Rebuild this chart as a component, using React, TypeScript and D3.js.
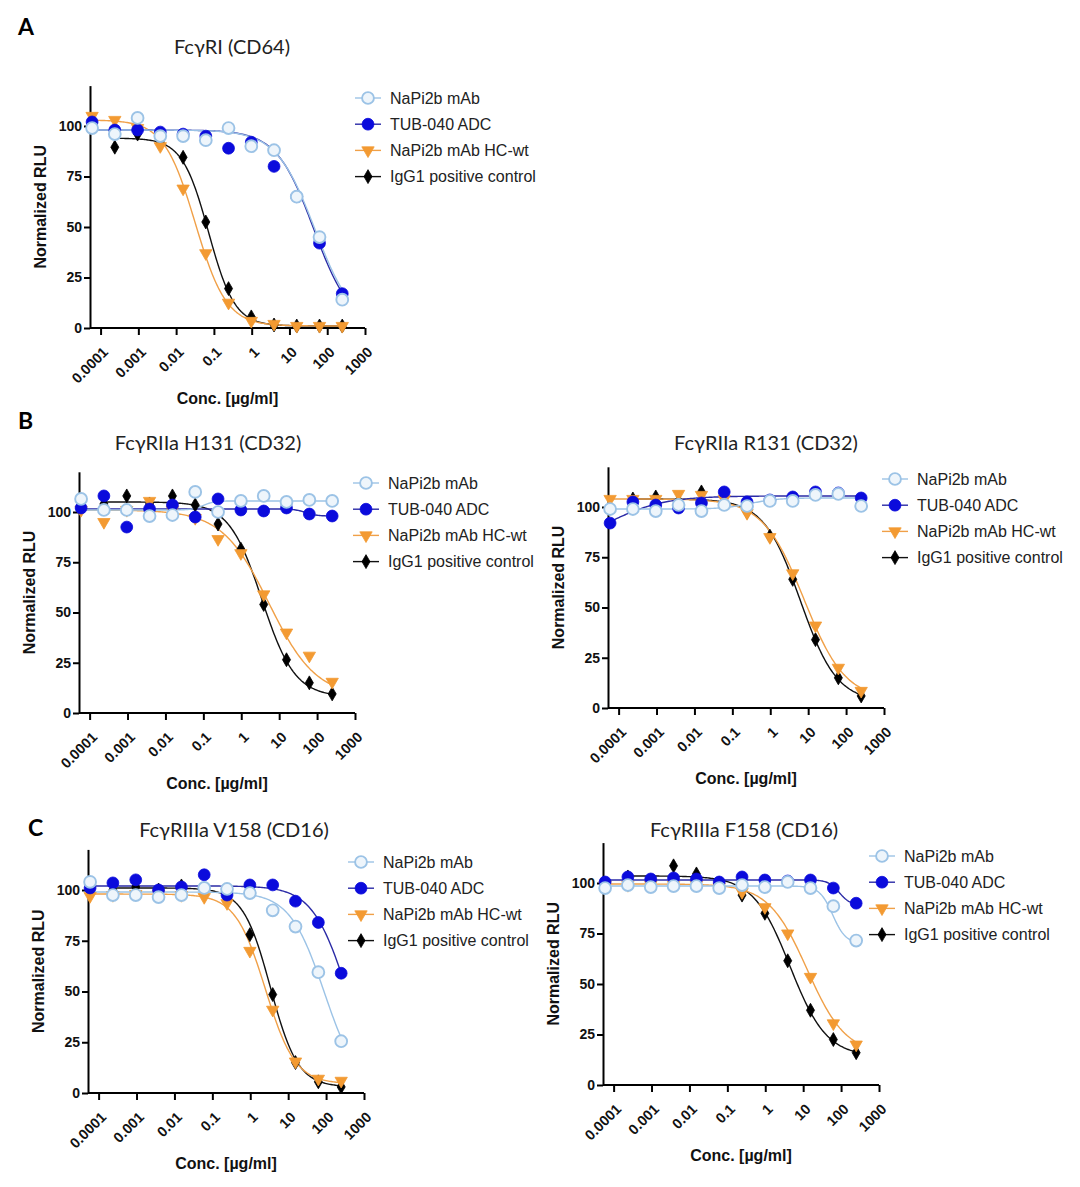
import React, { useEffect, useRef } from 'react';
import * as d3 from 'd3';

// 4-fold dilution series, µg/ml (lowest to highest)
const conc = [0.0000596, 0.000238, 0.000954, 0.00381, 0.0153, 0.061, 0.244, 0.977, 3.91, 15.6, 62.5, 250];

const seriesNames = ['NaPi2b mAb', 'TUB-040 ADC', 'NaPi2b mAb HC-wt', 'IgG1 positive control'];
const panelTitles = ['FcγRI (CD64)', 'FcγRIIa H131 (CD32)', 'FcγRIIa R131 (CD32)', 'FcγRIIIa V158 (CD16)', 'FcγRIIIa F158 (CD16)'];
const panelLetters = ['A', 'B', 'C'];
const xTicks = [0.0001, 0.001, 0.01, 0.1, 1, 10, 100, 1000];
const xTickLabels = ['0.0001', '0.001', '0.01', '0.1', '1', '10', '100', '1000'];
const yTicks = [0, 25, 50, 75, 100];

// Normalized RLU per series (null = no point)
const cd64Napi = [99, 96, 104, 95, 95, 93, 99, 90, 88, 65, 45, 14];
const cd64Tub = [102, 98, 98, 97, 96, 95, 89, 92, 80, 65, 42, 17];
const cd64Hc = [105, 103, 99, 90, 69, 37, 12.5, 3.5, 2, 1, 1, 1];
const cd64Igg = [null, 89.5, 96, 92, 84.5, 52.5, 19.5, 5.5, 1.5, 1, 1, 1];

const h131Napi = [106.5, 101, 101, 98, 98.5, 110, 100, 105.5, 108, 105, 106, 105.5];
const h131Tub = [102, 108, 92.5, 101.5, 103.5, 97.5, 106.5, 101, 100.5, 102, 99, 98];
const h131Hc = [101, 95, 101, 105.5, 101, 97, 86.5, 79.5, 59, 40, 28.5, 15.5];
const h131Igg = [null, 104, 108, 104, 108, 103.5, 94, 81.5, 54, 26.5, 15, 9.5];

const r131Napi = [99, 99, 98, 101, 98, 101, 100.5, 103, 103, 106, 106.5, 100.5];
const r131Tub = [92, 102.5, 101, 99.5, 102, 107.5, 102.5, 103.5, 105, 107.5, 107, 104.5];
const r131Hc = [104, 104, 104, 106.5, 106, 104, 97, 85, 67, 41, 20, 8.5];
const r131Igg = [null, 104, 105, 103, 107.5, 103, 97.5, 85.5, 64, 34, 15, 6];

const v158Napi = [104, 97.5, 97.5, 96.5, 97.5, 101, 100.5, 98.5, 90, 82, 59.5, 25.5];
const v158Tub = [101, 103.5, 105, 100, 101.5, 107.5, 97.5, 102.5, 102.5, 94.5, 84, 59];
const v158Hc = [97, 97.5, 98, 98, 97.5, 96.5, 93.5, 70, 41, 15.5, 7, 6];
const v158Igg = [null, 100, 101.5, 100, 102, 100, 96, 78, 48.5, 15, 5.5, 3];

const f158Napi = [97.5, 99, 98, 98.5, 98.5, 97.5, 99, 98, 100.5, 97.5, 88.5, 71.5];
const f158Tub = [100.5, 103, 102, 102.5, 102, 100.5, 103, 101.5, 101, 101.5, 97.5, 90];
const f158Hc = [99, 99, 99, 99, 99, 98, 95.5, 88, 75, 53.5, 30.5, 20];
const f158Igg = [null, 103, 101, 108.5, 104.5, 100, 94, 85, 61.5, 37, 22.5, 16];

// 4PL fit parameters per series: [top, bottom, IC50, hill]
const cd64Fits = [[98, 0, 47, 0.85], [98, 0, 44, 0.88], [103, 1, 0.032, 1.05], [94, 1, 0.072, 1.25]];
const h131Fits = [[101, 105.5, 0.1, 3], [101.5, 98, 50, 3], [101, 8, 5.4, 0.7], [105, 8, 3.5, 1]];
const r131Fits = [[99, 104.5, 0.3, 1.2], [80, 105.5, 0.00006, 0.6], [104, 4, 7.8, 0.8], [104, 3, 6.2, 0.9]];
const v158Fits = [[99, 0, 90, 0.95], [102, 0, 349, 0.95], [98, 4.5, 2.5, 1.1], [101, 3, 3.4, 1.2]];
const f158Fits = [[98.5, 70, 60, 2.5], [101.5, 89, 90, 3], [99.5, 15, 12.7, 0.85], [103.5, 14, 4.5, 0.9]];

const panelValues = [
  [cd64Napi, cd64Tub, cd64Hc, cd64Igg],
  [h131Napi, h131Tub, h131Hc, h131Igg],
  [r131Napi, r131Tub, r131Hc, r131Igg],
  [v158Napi, v158Tub, v158Hc, v158Igg],
  [f158Napi, f158Tub, f158Hc, f158Igg],
];
const panelFits = [cd64Fits, h131Fits, r131Fits, v158Fits, f158Fits];

// layout of each panel on the page
const layout = [
  { ax: 90, x1: 365, y0: 328, ppu: 2.02, tx: 232, ty: 54, lx: 368, ly: 98 },
  { ax: 79, x1: 355, y0: 713, ppu: 2.01, tx: 208, ty: 450, lx: 366, ly: 483 },
  { ax: 608, x1: 884, y0: 708, ppu: 2.01, tx: 766, ty: 450, lx: 895, ly: 479 },
  { ax: 88, x1: 364, y0: 1093, ppu: 2.03, tx: 234, ty: 837, lx: 361, ly: 862 },
  { ax: 603, x1: 879, y0: 1085, ppu: 2.02, tx: 744, ty: 837, lx: 882, ly: 856 },
];
const letterPos = [[18, 35], [18, 429], [28, 836]];

const pointFill = ['#eef5fb', '#0b0bdc', '#f39a32', '#000000'];
const pointStroke = ['#9cc3e6', '#0b0bdc', '#f39a32', '#000000'];
const curveColor = ['#9cc3e6', '#2b2ba6', '#f0a048', '#111111'];
const symbols = [d3.symbolCircle, d3.symbolCircle, d3.symbolTriangle, d3.symbolDiamond];
const symbolSize = [110, 110, 66, 56];

const AXIS_FONT = '"Liberation Sans", Arial, sans-serif';
const TITLE_FONT = 'Lato, "Open Sans", sans-serif';

const App: React.FC = () => {
  const svgRef = useRef<SVGSVGElement>(null);

  useEffect(() => {
    if (!svgRef.current) return;
    const svg = d3.select(svgRef.current);
    svg.selectAll('*').remove();

    svg.selectAll('text.letter')
      .data(panelLetters)
      .enter()
      .append('text')
      .attr('x', (_, i) => letterPos[i][0])
      .attr('y', (_, i) => letterPos[i][1])
      .style('font-family', TITLE_FONT)
      .style('font-weight', 'bold')
      .style('font-size', '23px')
      .text(d => d);

    const marker = (g: any, s: number, x: number, y: number) => {
      const path = d3.symbol().type(symbols[s]).size(symbolSize[s])();
      g.append('path')
        .attr('d', path)
        .attr('transform', `translate(${x},${y})` + (s === 2 ? ' rotate(180)' : ''))
        .attr('fill', pointFill[s])
        .attr('stroke', pointStroke[s])
        .attr('stroke-width', s === 0 ? 1.9 : 0.8);
    };

    layout.forEach((L, p) => {
      const g = svg.append('g');
      const x = d3.scaleLog().domain([Math.pow(10, -4.28), 1000]).range([L.ax, L.x1]);
      const y = d3.scaleLinear().domain([0, 120]).range([L.y0, L.y0 - 120 * L.ppu]);

      // title
      g.append('text')
        .attr('x', L.tx)
        .attr('y', L.ty)
        .attr('text-anchor', 'middle')
        .style('font-family', TITLE_FONT)
        .style('font-size', '20px')
        .attr('fill', '#222')
        .text(panelTitles[p]);

      // axes
      const xAxis = d3.axisBottom(x).tickValues(xTicks).tickFormat((_, i) => xTickLabels[i]).tickSize(7).tickSizeOuter(0);
      const xg = g.append('g').attr('transform', `translate(0,${L.y0})`).call(xAxis as any);
      xg.select('.domain').attr('stroke', '#000').attr('stroke-width', 2).attr('d', `M${L.ax},0H${L.x1}`);
      xg.selectAll('.tick line').attr('stroke', '#000').attr('stroke-width', 2);
      xg.selectAll('.tick text')
        .attr('y', 0)
        .attr('dy', 0)
        .attr('transform', 'translate(8,25) rotate(-45)')
        .attr('text-anchor', 'end')
        .style('font-family', AXIS_FONT)
        .style('font-weight', 'bold')
        .style('font-size', '14.5px')
        .attr('fill', '#111');

      const yAxis = d3.axisLeft(y).tickValues(yTicks).tickSize(6).tickSizeOuter(0);
      const yg = g.append('g').attr('transform', `translate(${L.ax},0)`).call(yAxis as any);
      yg.select('.domain').attr('stroke', '#000').attr('stroke-width', 2);
      yg.selectAll('.tick line').attr('stroke', '#000').attr('stroke-width', 2);
      yg.selectAll('.tick text')
        .attr('x', -8)
        .style('font-family', AXIS_FONT)
        .style('font-weight', 'bold')
        .style('font-size', '14px')
        .attr('fill', '#111');

      // axis titles
      g.append('text')
        .attr('transform', `translate(${L.ax - 44},${y(60)}) rotate(-90)`)
        .attr('text-anchor', 'middle')
        .style('font-family', AXIS_FONT)
        .style('font-weight', 'bold')
        .style('font-size', '16px')
        .attr('fill', '#111')
        .text('Normalized RLU');
      g.append('text')
        .attr('x', (L.ax + L.x1) / 2)
        .attr('y', L.y0 + 76)
        .attr('text-anchor', 'middle')
        .style('font-family', AXIS_FONT)
        .style('font-weight', 'bold')
        .style('font-size', '16px')
        .attr('fill', '#111')
        .text('Conc. [µg/ml]');

      // fitted curves, then points, drawn in reverse legend order
      const order = [3, 2, 1, 0];
      order.forEach(s => {
        const vals = panelValues[p][s];
        const [top, bottom, ic50, hill] = panelFits[p][s];
        const idx = vals.map((v, i) => (v === null ? -1 : i)).filter(i => i >= 0);
        const lo = Math.log10(conc[idx[0]]);
        const hi = Math.log10(conc[idx[idx.length - 1]]);
        const grid = d3.range(0, 201).map(k => Math.pow(10, lo + (hi - lo) * k / 200));
        const line = d3.line<number>()
          .x(c => x(c))
          .y(c => y(bottom + (top - bottom) / (1 + Math.pow(c / ic50, hill))));
        g.append('path')
          .attr('d', line(grid))
          .attr('fill', 'none')
          .attr('stroke', curveColor[s])
          .attr('stroke-width', 1.4);
      });
      order.forEach(s => {
        panelValues[p][s].forEach((v, i) => {
          if (v === null) return;
          marker(g, s, x(conc[i]), y(v as number));
        });
      });

      // legend
      seriesNames.forEach((name, s) => {
        const ly = L.ly + s * 26.2;
        g.append('line')
          .attr('x1', L.lx - 13)
          .attr('x2', L.lx + 13)
          .attr('y1', ly)
          .attr('y2', ly)
          .attr('stroke', curveColor[s])
          .attr('stroke-width', 1.4);
        marker(g, s, L.lx, ly);
        g.append('text')
          .attr('x', L.lx + 22)
          .attr('y', ly)
          .attr('dy', '0.35em')
          .style('font-family', AXIS_FONT)
          .style('font-size', '16px')
          .attr('fill', '#222')
          .text(name);
      });
    });
  }, []);

  return (
    <svg
      ref={svgRef}
      width={1080}
      height={1187}
      style={{ position: 'absolute', left: 0, top: 0, background: '#fff' }}
    />
  );
};

export default App;
